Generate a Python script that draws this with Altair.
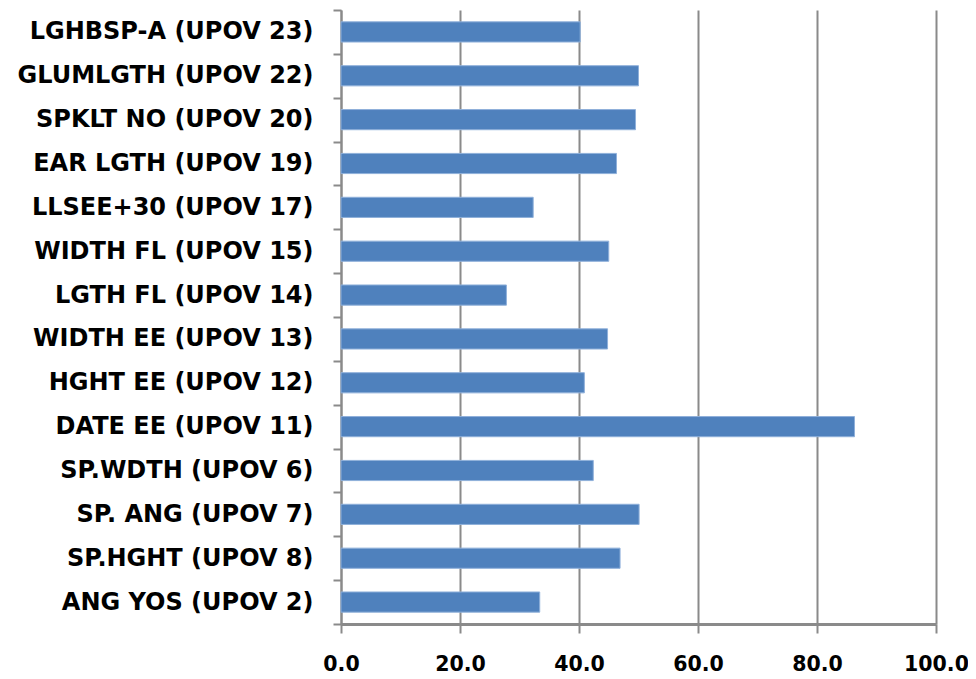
import altair as alt
import pandas as pd

categories = [
    "LGHBSP-A (UPOV 23)", "GLUMLGTH (UPOV 22)", "SPKLT NO (UPOV 20)",
    "EAR LGTH (UPOV 19)", "LLSEE+30 (UPOV 17)", "WIDTH FL (UPOV 15)",
    "LGTH FL (UPOV 14)", "WIDTH EE (UPOV 13)", "HGHT EE (UPOV 12)",
    "DATE EE (UPOV 11)", "SP.WDTH (UPOV 6)", "SP. ANG (UPOV 7)",
    "SP.HGHT (UPOV 8)", "ANG YOS (UPOV 2)",
]
values = [40.2, 50.0, 49.5, 46.3, 32.3, 45.0, 27.8, 44.8, 40.9, 86.3, 42.4, 50.1, 46.9, 33.4]
x_ticks = [0, 20, 40, 60, 80, 100]

df = pd.DataFrame({"cat": categories, "val": values})

FONT = "DejaVu Sans"
GRAY = "#8a8a8a"

chart = alt.Chart(df).mark_bar(
    color="#4F81BD", stroke="#8FB0DA", strokeWidth=1,
    height=alt.RelativeBandSize(0.46)
).encode(
    x=alt.X("val:Q", scale=alt.Scale(domain=[0, 100], nice=False),
            axis=alt.Axis(values=x_ticks, format=".1f", title=None,
                          grid=True, gridColor=GRAY, gridWidth=2,
                          domainColor=GRAY, domainWidth=3,
                          tickColor=GRAY, tickWidth=2, tickSize=9,
                          labelFont=FONT, labelFontSize=20.5, labelFontWeight="bold",
                          labelColor="black", labelPadding=21, labelFlush=False)),
    y=alt.Y("cat:N", sort=categories, scale=alt.Scale(paddingInner=0, paddingOuter=0),
            axis=alt.Axis(title=None, grid=False, tickBand="extent",
                          domainColor=GRAY, domainWidth=2,
                          tickColor=GRAY, tickWidth=2, tickSize=8,
                          labelFont=FONT, labelFontSize=24, labelFontWeight="bold",
                          labelColor="black", labelPadding=20, labelLimit=400)),
).properties(
    width=595, height=614,
    autosize=alt.AutoSizeParams(type="none"),
    padding={"left": 333, "top": 2, "right": 32, "bottom": 55},
).configure_view(stroke=None)

chart.save("out.html", embed_options={"renderer": "svg", "actions": False})
